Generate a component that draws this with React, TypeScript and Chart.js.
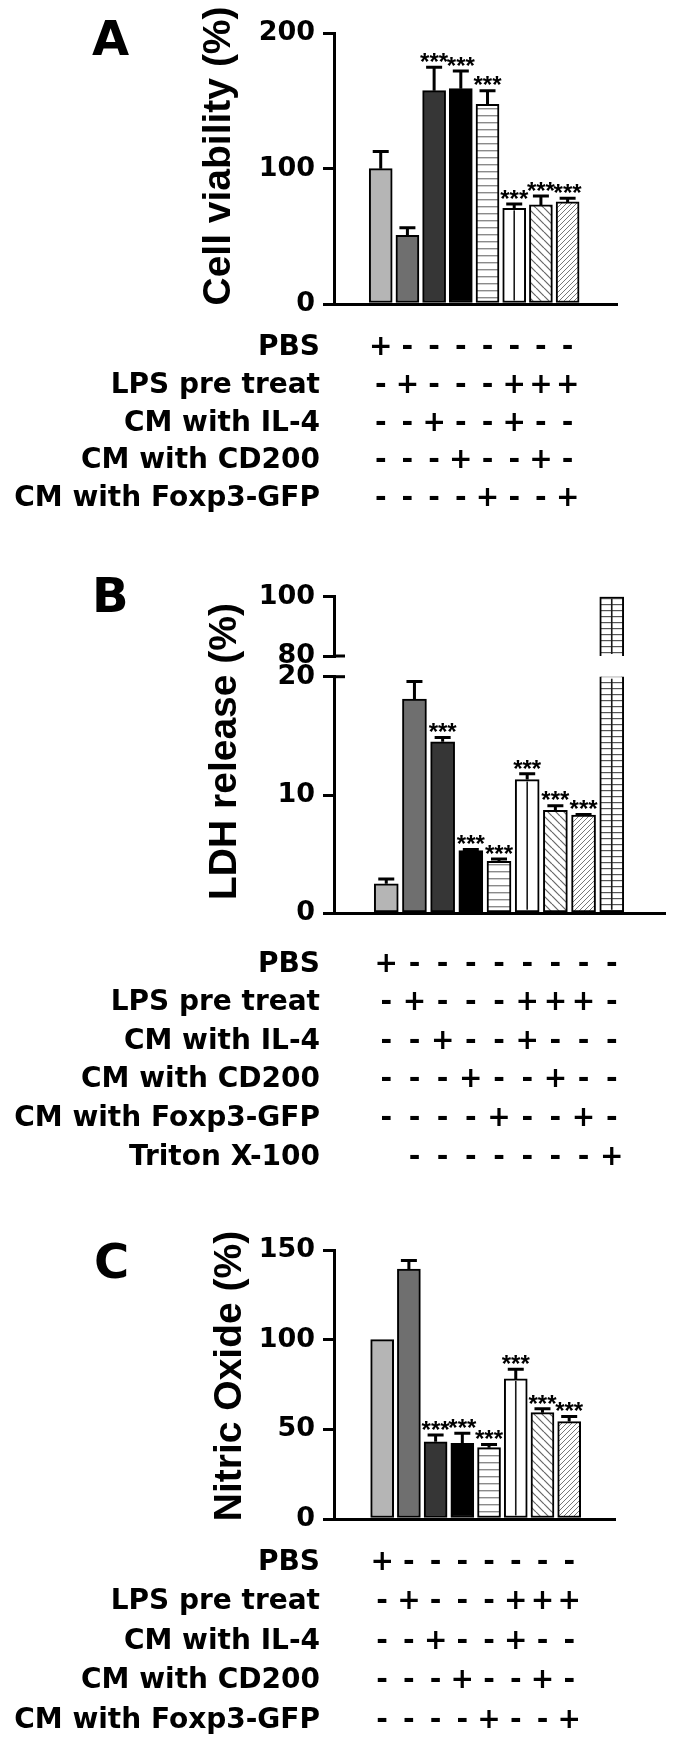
import React, { useEffect, useRef } from "react";
import { Chart, registerables } from "chart.js";

Chart.register(...registerables);

// ---------------- data ----------------
const groups = [
  "PBS",
  "LPS",
  "CM IL-4",
  "CM CD200",
  "CM Foxp3-GFP",
  "LPS + CM IL-4",
  "LPS + CM CD200",
  "LPS + CM Foxp3-GFP",
];
const groupsLdh = [...groups, "Triton X-100"];

// Panel A: cell viability (%)
const viabilityMean = [100, 50.7, 157.6, 159.1, 147.5, 70.7, 73.2, 75.4];
const viabilityErr = [12.6, 5.7, 17.3, 13.1, 10.1, 3.2, 6.6, 2.7];
const viabilitySig = ["", "", "***", "***", "***", "***", "***", "***"];
const viabilityTicks = [0, 100, 200];

// Panel B: LDH release (%) (broken axis 0-20 / 80-100)
const ldhMean = [2.5, 18.1, 14.5, 5.3, 4.4, 11.3, 8.7, 8.3, 100];
const ldhErr = [0.4, 1.5, 0.35, 0.1, 0.2, 0.5, 0.4, 0.06, 0];
const ldhSig = ["", "", "***", "***", "***", "***", "***", "***", ""];
const ldhTicksLow = [0, 10, 20];
const ldhTicksHigh = [80, 100];

// Panel C: nitric oxide (%)
const noMean = [100, 139.3, 43.1, 42.2, 39.8, 78.1, 59.3, 54.3];
const noErr = [0, 4.8, 3.7, 5.6, 1.8, 5.4, 2.2, 2.8];
const noSig = ["", "", "***", "***", "***", "***", "***", "***"];
const noTicks = [0, 50, 100, 150];

// treatment table
const treatments = ["PBS", "LPS pre treat", "CM with IL-4", "CM with CD200", "CM with Foxp3-GFP"];
const treatmentMarks = [
  ["+", "-", "-", "-", "-", "-", "-", "-"],
  ["-", "+", "-", "-", "-", "+", "+", "+"],
  ["-", "-", "+", "-", "-", "+", "-", "-"],
  ["-", "-", "-", "+", "-", "-", "+", "-"],
  ["-", "-", "-", "-", "+", "-", "-", "+"],
];
const treatmentsLdh = [...treatments, "Triton X-100"];
const treatmentMarksLdh = [
  ["+", "-", "-", "-", "-", "-", "-", "-", "-"],
  ["-", "+", "-", "-", "-", "+", "+", "+", "-"],
  ["-", "-", "+", "-", "-", "+", "-", "-", "-"],
  ["-", "-", "-", "+", "-", "-", "+", "-", "-"],
  ["-", "-", "-", "-", "+", "-", "-", "+", "-"],
  ["", "-", "-", "-", "-", "-", "-", "-", "+"],
];

// ---------------- styles ----------------
const fillKinds = ["#b5b5b5", "#6f6f6f", "#363636", "#000000", "hstripe", "#ffffff", "back", "fwd", "grid"];
const centerLineKinds = [false, false, false, false, false, true, false, false, true];

function makeFill(kind: string): any {
  if (kind[0] === "#") return kind;
  const c = document.createElement("canvas");
  const g = c.getContext("2d")!;
  if (kind === "hstripe") {
    c.width = 8; c.height = 7;
    g.fillStyle = "#fff"; g.fillRect(0, 0, 8, 7);
    g.fillStyle = "#8a8a8a"; g.fillRect(0, 3, 8, 1.4);
  } else if (kind === "grid") {
    c.width = 8; c.height = 6;
    g.fillStyle = "#fff"; g.fillRect(0, 0, 8, 6);
    g.fillStyle = "#555"; g.fillRect(0, 2, 8, 1.2);
  } else if (kind === "back") {
    c.width = 8; c.height = 8;
    g.fillStyle = "#fff"; g.fillRect(0, 0, 8, 8);
    g.strokeStyle = "#666"; g.lineWidth = 1.2;
    for (const x0 of [-8, 0, 8]) { g.beginPath(); g.moveTo(x0, 0); g.lineTo(x0 + 8, 8); g.stroke(); }
  } else if (kind === "fwd") {
    c.width = 5; c.height = 5;
    g.fillStyle = "#fff"; g.fillRect(0, 0, 5, 5);
    g.strokeStyle = "#777"; g.lineWidth = 1;
    for (const x0 of [-5, 0, 5]) { g.beginPath(); g.moveTo(x0, 5); g.lineTo(x0 + 5, 0); g.stroke(); }
  }
  return g.createPattern(c, "repeat");
}

const FONT = "DejaVu Sans";
const W = 675;

type Spec = {
  canvasTop: number; canvasHeight: number;
  area: { left: number; right: number; top: number; bottom: number };
  xMin: number; xMax: number; yMin: number; yMax: number; ticks: number[];
  labels: string[];
  values: (number | null)[]; errors: number[]; sig: string[];
  barThickness: number; showXAxis: boolean; borderSkipped: any;
  letter?: { text: string; x: number; baseline: number };
  title?: { text: string; x: number; cy: number };
  table?: { rows: string[]; marks: string[][]; baseline0: number; step: number; labelRight: number };
  breakMark?: "top" | "bottom";
};

function decor(spec: Spec) {
  const off = spec.canvasTop;
  return {
    id: "decor",
    afterDatasetsDraw(chart: any) {
      const ctx = chart.ctx;
      const ys = chart.scales.y;
      const area = chart.chartArea;
      const meta = chart.getDatasetMeta(0);
      ctx.save();
      meta.data.forEach((el: any, i: number) => {
        const v = spec.values[i];
        if (v == null) return;
        const p = el.getProps(["x", "y", "base"], true);
        if (centerLineKinds[i]) {
          const top = Math.max(Math.min(p.y, p.base), area.top) + 2;
          const bot = Math.min(Math.max(p.y, p.base), area.bottom) - 2;
          ctx.strokeStyle = "#1a1a1a"; ctx.lineWidth = 1.6;
          ctx.beginPath(); ctx.moveTo(p.x, top); ctx.lineTo(p.x, bot); ctx.stroke();
        }
        const e = spec.errors[i] || 0;
        const capY = ys.getPixelForValue(v + e);
        if (e > 0) {
          ctx.strokeStyle = "#000"; ctx.lineWidth = 3; ctx.lineCap = "butt";
          ctx.beginPath();
          ctx.moveTo(p.x, p.y); ctx.lineTo(p.x, capY);
          ctx.moveTo(p.x - 8, capY); ctx.lineTo(p.x + 8, capY);
          ctx.stroke();
        }
        const s = spec.sig[i];
        if (s) {
          ctx.fillStyle = "#000";
          ctx.font = "bold 24px 'Liberation Sans'";
          ctx.textAlign = "center"; ctx.textBaseline = "alphabetic";
          ctx.fillText(s, p.x, capY + 2.8);
        }
      });
      ctx.restore();
    },
    afterDraw(chart: any) {
      const ctx = chart.ctx;
      const xs = chart.scales.x;
      const area = chart.chartArea;
      ctx.save();
      ctx.fillStyle = "#000";
      if (spec.letter) {
        ctx.font = `bold 48px '${FONT}'`;
        ctx.textAlign = "left"; ctx.textBaseline = "alphabetic";
        ctx.fillText(spec.letter.text, spec.letter.x, spec.letter.baseline - off);
      }
      if (spec.title) {
        ctx.save();
        ctx.translate(spec.title.x, spec.title.cy - off);
        ctx.rotate(-Math.PI / 2);
        ctx.font = "bold 39px 'Liberation Sans'";
        ctx.textAlign = "center"; ctx.textBaseline = "alphabetic";
        ctx.fillText(spec.title.text, 0, 0);
        ctx.restore();
      }
      if (spec.table) {
        const t = spec.table;
        ctx.font = `bold 28px '${FONT}'`;
        ctx.textBaseline = "alphabetic";
        t.rows.forEach((row, r) => {
          const by = t.baseline0 + r * t.step - off;
          ctx.textAlign = "right";
          ctx.fillText(row, t.labelRight, by);
          ctx.textAlign = "center";
          t.marks[r].forEach((m, j) => {
            if (m) ctx.fillText(m, xs.getPixelForValue(j), by);
          });
        });
      }
      if (spec.breakMark) {
        const yy = spec.breakMark === "bottom" ? area.bottom : area.top;
        ctx.strokeStyle = "#000"; ctx.lineWidth = 3;
        ctx.beginPath(); ctx.moveTo(area.left, yy); ctx.lineTo(area.left + 11, yy); ctx.stroke();
      }
      ctx.restore();
    },
  };
}

function buildConfig(spec: Spec): any {
  const a = spec.area;
  return {
    type: "bar",
    data: {
      labels: spec.labels,
      datasets: [
        {
          label: "mean",
          data: spec.values.map((v, i) => ({ x: i, y: v })),
          backgroundColor: fillKinds.slice(0, spec.values.length).map(makeFill),
          borderColor: "#000",
          borderWidth: 2,
          borderSkipped: spec.borderSkipped,
          barThickness: spec.barThickness,
          clip: 0,
        },
      ],
    },
    options: {
      responsive: false,
      maintainAspectRatio: false,
      animation: false,
      devicePixelRatio: 1,
      events: [],
      layout: {
        padding: {
          left: 0,
          right: W - a.right,
          top: a.top - spec.canvasTop,
          bottom: spec.canvasTop + spec.canvasHeight - a.bottom,
        },
      },
      plugins: { legend: { display: false }, tooltip: { enabled: false }, title: { display: false } },
      scales: {
        x: {
          type: "linear",
          min: spec.xMin,
          max: spec.xMax,
          grid: { display: false, drawTicks: false },
          ticks: { display: false },
          border: { display: spec.showXAxis, color: "#000", width: 3 },
          afterFit: (s: any) => { s.height = 0; },
        },
        y: {
          type: "linear",
          min: spec.yMin,
          max: spec.yMax,
          afterBuildTicks: (s: any) => { s.ticks = spec.ticks.map((v) => ({ value: v })); },
          ticks: { color: "#000", padding: 8, font: { family: FONT, weight: "bold", size: 27 } },
          grid: {
            drawOnChartArea: false, drawTicks: true, tickLength: 11,
            tickWidth: 3, tickColor: "#000", color: "#000", lineWidth: 3,
          },
          border: { display: true, color: "#000", width: 3 },
          afterFit: (s: any) => { s.width = a.left; },
        },
      },
    },
    plugins: [decor(spec)],
  };
}

const specs: Spec[] = [
  {
    canvasTop: 0, canvasHeight: 540,
    area: { left: 334, right: 617, top: 33.3, bottom: 304 },
    xMin: -0.69, xMax: 7.79, yMin: 0, yMax: 200, ticks: viabilityTicks,
    labels: groups, values: viabilityMean, errors: viabilityErr, sig: viabilitySig,
    barThickness: 23, showXAxis: true, borderSkipped: false,
    letter: { text: "A", x: 92, baseline: 55 },
    title: { text: "Cell viability (%)", x: 229.5, cy: 156 },
    table: { rows: treatments, marks: treatmentMarks, baseline0: 355, step: 37.8, labelRight: 320 },
  },
  {
    canvasTop: 560, canvasHeight: 640,
    area: { left: 334, right: 665, top: 676.7, bottom: 913.3 },
    xMin: -0.68, xMax: 8.715, yMin: 0, yMax: 20, ticks: ldhTicksLow,
    labels: groupsLdh, values: ldhMean, errors: ldhErr, sig: ldhSig,
    barThickness: 24, showXAxis: true, borderSkipped: false,
    letter: { text: "B", x: 92, baseline: 612 },
    title: { text: "LDH release (%)", x: 235.5, cy: 751.5 },
    table: { rows: treatmentsLdh, marks: treatmentMarksLdh, baseline0: 971.5, step: 38.6, labelRight: 320 },
    breakMark: "top",
  },
  {
    canvasTop: 560, canvasHeight: 130,
    area: { left: 334, right: 665, top: 596.7, bottom: 656 },
    xMin: -0.68, xMax: 8.715, yMin: 80, yMax: 100, ticks: ldhTicksHigh,
    labels: groupsLdh, values: ldhMean.map((v) => (v >= 80 ? v : null)), errors: ldhErr, sig: ldhSig.map(() => ""),
    barThickness: 24, showXAxis: false, borderSkipped: "bottom",
    breakMark: "bottom",
  },
  {
    canvasTop: 1200, canvasHeight: 544,
    area: { left: 334, right: 615.6, top: 1250, bottom: 1519 },
    xMin: -0.749, xMax: 7.683, yMin: 0, yMax: 150, ticks: noTicks,
    labels: groups, values: noMean, errors: noErr, sig: noSig,
    barThickness: 23, showXAxis: true, borderSkipped: false,
    letter: { text: "C", x: 94, baseline: 1278 },
    title: { text: "Nitric Oxide (%)", x: 240.5, cy: 1376 },
    table: { rows: treatments, marks: treatmentMarks, baseline0: 1569.5, step: 39.6, labelRight: 320 },
  },
];

export default function App() {
  const canvases = useRef<(HTMLCanvasElement | null)[]>([]);
  useEffect(() => {
    const charts = specs.map((s, i) => new Chart(canvases.current[i]!, buildConfig(s)));
    return () => charts.forEach((c) => c.destroy());
  }, []);
  return (
    <div style={{ position: "absolute", left: 0, top: 0, width: W, height: 1744, background: "#fff", overflow: "hidden" }}>
      {specs.map((s, i) => (
        <canvas
          key={i}
          ref={(el) => { canvases.current[i] = el; }}
          width={W}
          height={s.canvasHeight}
          style={{ position: "absolute", left: 0, top: s.canvasTop, width: W, height: s.canvasHeight }}
        />
      ))}
    </div>
  );
}
